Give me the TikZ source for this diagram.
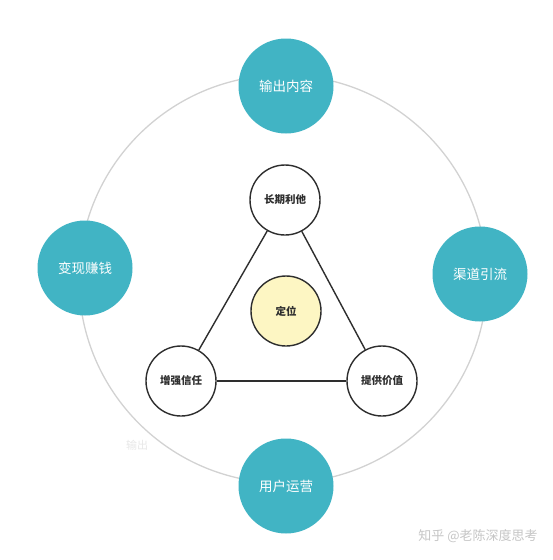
\documentclass[tikz,border=0pt]{standalone}
\usepackage{fontspec}
\usepackage{xcolor}
\newfontfamily\cjk{Noto Sans CJK SC}
\usetikzlibrary{backgrounds,calc,positioning}

\definecolor{teal1}{HTML}{41B4C4}
\definecolor{pale}{HTML}{FDF6C3}
\definecolor{ink}{HTML}{2E2E2E}

\tikzset{
	outer/.style = {circle, fill=teal1, draw=none, minimum size=95pt, inner sep=0pt,
		text=white, font=\cjk\fontsize{13.5}{13.5}\selectfont},
	inner/.style = {circle, fill=white, draw=ink, line width=1.4pt, minimum size=70pt, inner sep=0pt,
		text=ink, font=\cjk\bfseries\fontsize{10.5}{10.5}\selectfont},
	link/.style  = {draw=ink, line width=1.4pt}
}

\begin{document}
	\begin{tikzpicture}[x=1pt, y=-1pt]
		\useasboundingbox[fill=white] (0,0) rectangle (553,560);
		\begin{scope}
			% big ring
			\draw[gray!35, line width=1.3pt] (283,279) circle (204);

			\node[outer] (shuchu)  at (286,86)  {输出内容};
			\node[outer] (qudao)   at (480,274) {渠道引流};
			\node[outer] (yunying) at (286,486) {用户运营};
			\node[outer] (bianxian) at (85,268) {变现赚钱};

			\node[inner] (lita)   at (285,200) {长期利他};
			\node[inner, fill=pale] (dingwei) at (286,311) {定位};
			\node[inner] (xinren) at (181,381) {增强信任};
			\node[inner] (jiazhi) at (382,381) {提供价值};

			\draw[link] (lita) -- (xinren);
			\draw[link] (lita) -- (jiazhi);
			\draw[link] (xinren) -- (jiazhi);

			\node[text=gray!18, font=\cjk\fontsize{11}{11}\selectfont] (faint) at (137,445) {输出};
			\node[text=gray!45, font=\cjk\fontsize{13}{13}\selectfont] (mark) at (478,536) {知乎 @老陈深度思考};
		\end{scope}
	\end{tikzpicture}
\end{document}
